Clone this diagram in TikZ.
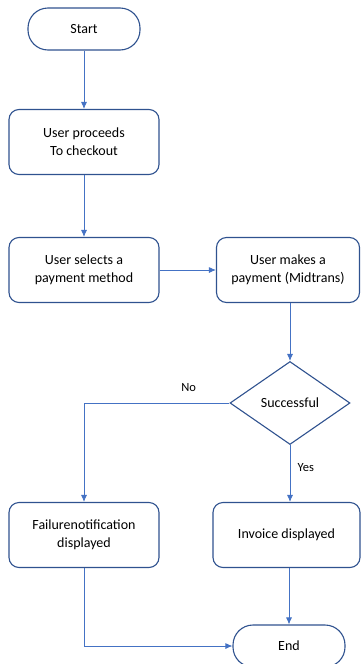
\documentclass[tikz,border=0pt]{standalone}
\usepackage{fontspec}
\setmainfont{Carlito}
\usetikzlibrary{shapes.geometric,arrows.meta}

\definecolor{boxblue}{HTML}{2F528F}
\definecolor{lineblue}{HTML}{4472C4}

\tikzset{
  terminal/.style={draw=boxblue, line width=1.1pt, rounded corners=20pt,
    minimum width=112pt, minimum height=42pt, align=center},
  process/.style={draw=boxblue, line width=1.1pt, rounded corners=10pt,
    minimum width=150pt, minimum height=65pt, align=center},
  decision/.style={diamond, draw=boxblue, line width=1.1pt, aspect=1.45,
    inner sep=0pt, minimum width=120pt, minimum height=83pt},
  flow/.style={draw=lineblue, line width=0.8pt, -{Latex[length=7pt,width=6pt]}},
  lbl/.style={font=\fontsize{12.5}{15}\selectfont}
}

\begin{document}
\begin{tikzpicture}[x=1pt,y=-1pt,font=\fontsize{14}{18}\selectfont]
    \useasboundingbox (0,0) rectangle (360,664);
    % boxes
    \node[terminal] (start) at (84,29) {Start};
    \node[process] (proceed) at (84,142) {User proceeds\\To checkout};
    \node[process] (select) at (84,270) {User selects a\\payment method};
    \node[process, minimum width=143pt] (pay) at (288,270) {User makes a\\payment (Midtrans)};
    \node[decision] (success) at (290,403) {Successful};
    \node[process] (fail) at (84,535) {Failurenotification\\displayed};
    \node[process, minimum width=147pt] (invoice) at (286.5,535) {Invoice displayed};
    \node[terminal] (end) at (289,646) {End};
    % arrows
    \draw[flow] (start) -- (proceed);
    \draw[flow] (proceed) -- (select);
    \draw[flow] (select) -- (pay);
    \draw[flow] (pay.south -| success.north) -- (success.north);
    \draw[flow] (success.west) -| (fail.north) node[lbl, pos=0.14, above=8pt] {No};
    \draw[flow] (success.south) -- (invoice.north -| success.south) node[lbl, pos=0.4, right=4pt] {Yes};
    \draw[flow] (invoice.south -| end.north) -- (end.north);
    \draw[flow] (fail.south) |- (end.west);
\end{tikzpicture}
\end{document}
